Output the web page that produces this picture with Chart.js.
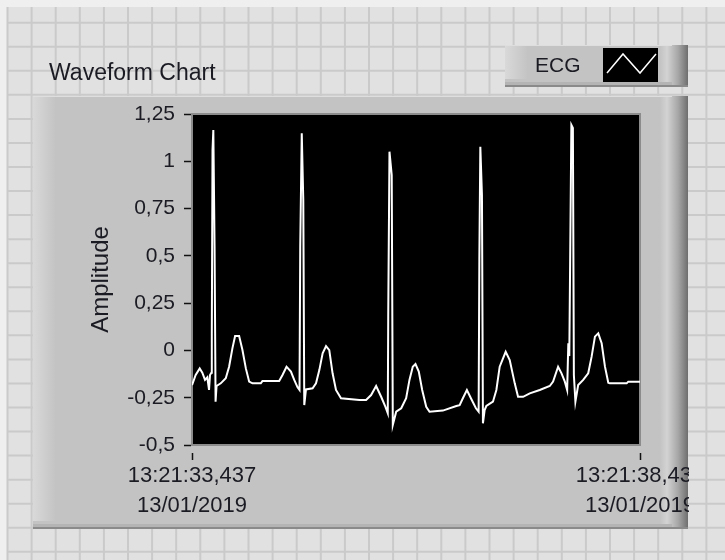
<!DOCTYPE html>
<html lang="en">

<head>
    <meta charset="UTF-8">
    <title>Waveform Chart</title>
    <style>
        body { margin: 0; background: #e1e1e1; }
        canvas { display: block; }
    </style>
</head>

<body>
    <canvas id="chart" width="725" height="560"></canvas>

    <script src="https://cdn.jsdelivr.net/npm/chart.js@4.4.1/dist/chart.umd.min.js"></script>

    <script>
        // seconds after 13:21:33,437
        const times = [0.000, 0.041, 0.086, 0.115, 0.145, 0.171, 0.190, 0.201, 0.216, 0.221,
            0.229, 0.238, 0.252, 0.263, 0.274, 0.321, 0.377, 0.414, 0.451, 0.481,
            0.526, 0.563, 0.601, 0.638, 0.675, 0.768, 0.786, 0.973, 1.010, 1.055,
            1.104, 1.141, 1.178, 1.200, 1.208, 1.225, 1.242, 1.253, 1.272, 1.346,
            1.384, 1.421, 1.458, 1.496, 1.532, 1.569, 1.607, 1.663, 1.868, 1.943,
            1.999, 2.055, 2.111, 2.159, 2.185, 2.190, 2.204, 2.229, 2.241, 2.279,
            2.335, 2.390, 2.427, 2.464, 2.494, 2.531, 2.569, 2.614, 2.651, 2.800,
            2.950, 2.987, 3.023, 3.068, 3.117, 3.169, 3.199, 3.207, 3.218, 3.236,
            3.247, 3.266, 3.285, 3.359, 3.397, 3.434, 3.501, 3.546, 3.602, 3.639,
            3.695, 3.770, 3.881, 3.993, 4.030, 4.086, 4.124, 4.161, 4.187, 4.200,
            4.211, 4.234, 4.251, 4.262, 4.279, 4.310, 4.366, 4.422, 4.460, 4.497,
            4.534, 4.572, 4.609, 4.646, 4.664, 4.851, 4.869, 5.000];

        const ecg = [-0.183, -0.130, -0.095, -0.118, -0.156, -0.142, -0.209, -0.130, -0.118, 0.090,
            1.060, 1.165, 0.544, -0.271, -0.188, -0.174, -0.147, -0.086, 0.011, 0.076,
            0.076, 0.002, -0.095, -0.165, -0.174, -0.174, -0.162, -0.162, -0.130, -0.086,
            -0.112, -0.156, -0.195, -0.209, 0.548, 1.148, 0.795, -0.289, -0.206, -0.200,
            -0.174, -0.104, -0.015, 0.023, 0.002, -0.121, -0.209, -0.253, -0.262, -0.262,
            -0.236, -0.188, -0.245, -0.298, -0.332, 0.178, 1.051, 0.927, -0.394, -0.324,
            -0.306, -0.253, -0.156, -0.086, -0.072, -0.112, -0.209, -0.298, -0.324, -0.318,
            -0.294, -0.289, -0.253, -0.209, -0.257, -0.306, -0.324, 0.482, 1.077, 0.822,
            -0.385, -0.315, -0.294, -0.271, -0.209, -0.086, -0.007, -0.051, -0.174, -0.245,
            -0.245, -0.227, -0.209, -0.188, -0.165, -0.086, -0.121, -0.165, -0.209, 0.038,
            -0.030, 1.192, 1.176, -0.130, -0.271, -0.183, -0.156, -0.121, -0.033, 0.073,
            0.090, 0.038, -0.086, -0.171, -0.174, -0.174, -0.165, -0.165];

        const xTicks = [0, 5];
        const xTickLabels = [["13:21:33,437", "13/01/2019"], ["13:21:38,437", "13/01/2019"]];
        const yMin = -0.5, yMax = 1.25, yStep = 0.25;

        const FONT = "'Liberation Sans', Arial, sans-serif";
        const INK = "#1b1b24";

        // front panel grid, optionally only inside a box
        function drawBackdrop(ctx, x0, y0, x1, y1) {
            ctx.save();
            ctx.beginPath();
            ctx.rect(x0, y0, x1 - x0, y1 - y0);
            ctx.clip();
            ctx.fillStyle = "#efefef";
            ctx.fillRect(0, 0, 725, 560);
            ctx.fillStyle = "#e1e1e1";
            ctx.fillRect(7, 7, 725, 560);
            ctx.strokeStyle = "#cacaca";
            ctx.lineWidth = 2;
            ctx.beginPath();
            for (let x = 7.5; x < 725; x += 24.1) {
                ctx.moveTo(x, 7);
                ctx.lineTo(x, 560);
            }
            for (let y = 22.7; y < 560; y += 24.05) {
                ctx.moveTo(7, y);
                ctx.lineTo(725, y);
            }
            ctx.stroke();
            ctx.restore();
        }

        function bevelBox(ctx, x, y, w, h) {
            ctx.fillStyle = "#c3c3c3";
            ctx.fillRect(x, y, w, h);
            let g = ctx.createLinearGradient(x, 0, x + 22, 0);
            g.addColorStop(0, "#d9d9d9");
            g.addColorStop(1, "#c4c4c4");
            ctx.fillStyle = g;
            ctx.fillRect(x, y, 22, h - 8);
            g = ctx.createLinearGradient(x + w - 28, 0, x + w, 0);
            g.addColorStop(0, "#c3c3c3");
            g.addColorStop(0.25, "#d3d3d3");
            g.addColorStop(0.65, "#a6a6a6");
            g.addColorStop(1, "#6e6e6e");
            ctx.fillStyle = g;
            ctx.fillRect(x + w - 28, y, 28, h);
            ctx.fillStyle = "#b4b4b4";
            ctx.fillRect(x, y + h - 5, w - 16, 3);
            ctx.fillStyle = "#8a8a8a";
            ctx.fillRect(x, y + h - 2, w, 2);
            ctx.fillStyle = "#dedede";
            ctx.fillRect(x, y, w - 16, 1);
        }

        const panelPlugin = {
            id: "panel",
            beforeDraw(chart) {
                const ctx = chart.ctx;
                const a = chart.chartArea;
                drawBackdrop(ctx, 0, 0, 725, 560);

                // main chart panel
                bevelBox(ctx, 33, 96, 655, 433);

                // legend
                bevelBox(ctx, 505, 45, 183, 42);
                ctx.fillStyle = INK;
                ctx.font = "21px " + FONT;
                ctx.textBaseline = "middle";
                ctx.textAlign = "left";
                ctx.fillText(chart.data.datasets[0].label, 535, 66);
                ctx.fillStyle = "#000";
                ctx.fillRect(603, 48, 55, 34);
                ctx.strokeStyle = "#fff";
                ctx.lineWidth = 1.5;
                ctx.beginPath();
                ctx.moveTo(607, 73);
                ctx.lineTo(623, 54);
                ctx.lineTo(640, 73);
                ctx.lineTo(656, 54);
                ctx.stroke();

                // caption
                ctx.fillStyle = INK;
                ctx.font = "23px " + FONT;
                ctx.fillText("Waveform Chart", 49, 74);

                // plot background
                ctx.fillStyle = "#000";
                ctx.fillRect(a.left, a.top, a.right - a.left, a.bottom - a.top);
                ctx.strokeStyle = "#8c8c8c";
                ctx.lineWidth = 2;
                ctx.strokeRect(a.left, a.top, a.right - a.left, a.bottom - a.top);
            },
            afterDraw(chart) {
                // the panel cuts the last time label off
                drawBackdrop(chart.ctx, 689, 90, 725, 545);
            }
        };

        const ctx = document.getElementById("chart");

        new Chart(ctx, {
            type: "line",
            data: {
                datasets: [{
                    label: "ECG",
                    data: times.map((t, i) => ({ x: t, y: ecg[i] })),
                    borderColor: "#ffffff",
                    borderWidth: 2,
                    pointRadius: 0,
                    tension: 0
                }]
            },
            options: {
                responsive: false,
                animation: false,
                layout: { padding: { left: 87, top: 114, right: 85, bottom: 0 } },
                plugins: {
                    legend: { display: false },
                    tooltip: { enabled: false }
                },
                scales: {
                    x: {
                        type: "linear",
                        min: 0,
                        max: 5,
                        afterBuildTicks: scale => {
                            scale.ticks = xTicks.map(v => ({ value: v }));
                        },
                        afterFit: scale => { scale.height = 115; },
                        grid: {
                            drawOnChartArea: false,
                            tickLength: 15,
                            tickBorderDash: [0, 7, 8, 60],
                            tickColor: "#111",
                            tickWidth: 1.5
                        },
                        border: { color: "#8c8c8c", width: 2 },
                        ticks: {
                            autoSkip: false,
                            maxRotation: 0,
                            padding: 1,
                            color: INK,
                            font: { family: FONT, size: 22, lineHeight: "30px" },
                            callback: (v, i) => xTickLabels[i]
                        }
                    },
                    y: {
                        min: yMin,
                        max: yMax,
                        afterFit: scale => { scale.width = 105; },
                        grid: {
                            drawOnChartArea: false,
                            tickLength: 12,
                            tickBorderDash: [0, 4, 8, 60],
                            tickColor: "#111",
                            tickWidth: 1.5
                        },
                        border: { color: "#8c8c8c", width: 2 },
                        title: {
                            display: true,
                            text: "Amplitude",
                            color: INK,
                            padding: { top: 0, bottom: 0 },
                            font: { family: FONT, size: 24 }
                        },
                        ticks: {
                            stepSize: yStep,
                            padding: 5,
                            color: INK,
                            font: { family: FONT, size: 21 },
                            callback: v => String(Math.round(v * 100) / 100).replace(".", ",")
                        }
                    }
                }
            },
            plugins: [panelPlugin]
        });
    </script>
</body>

</html>
